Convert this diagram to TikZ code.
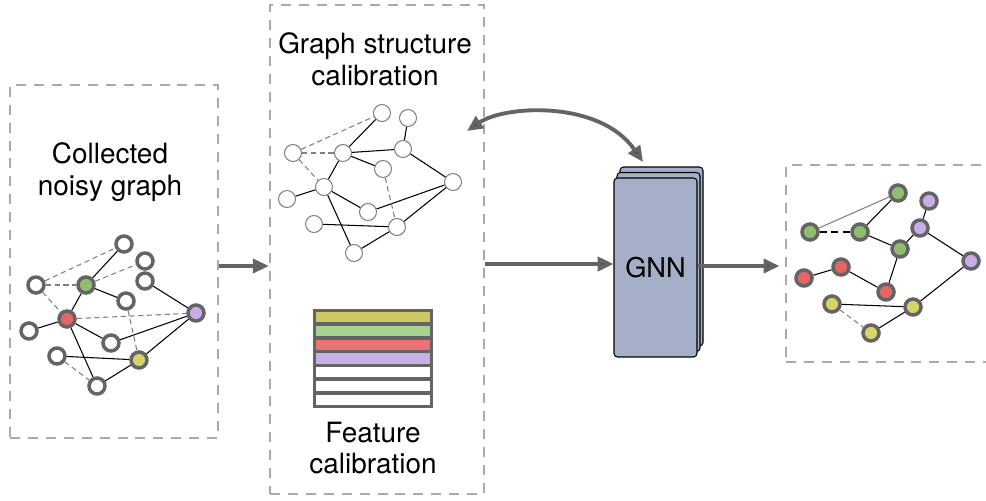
\documentclass[tikz,border=0pt]{standalone}
\usepackage{fontspec}
\setmainfont{TeX Gyre Heros}
\usepackage{tikz}
\usetikzlibrary{arrows.meta}

\definecolor{ngreen}{RGB}{143,190,112}
\definecolor{nred}{RGB}{229,102,102}
\definecolor{npurple}{RGB}{200,172,230}
\definecolor{nyellow}{RGB}{214,212,102}
\definecolor{fyellow}{RGB}{205,200,100}
\definecolor{fgreen}{RGB}{165,210,140}
\definecolor{fred}{RGB}{235,115,115}
\definecolor{fpurple}{RGB}{200,175,230}
\definecolor{gnnblue}{RGB}{165,176,200}
\definecolor{boxgray}{RGB}{170,170,170}
\definecolor{rimgray}{RGB}{100,100,100}

\tikzset{
  vtx/.style={shape=circle,draw=rimgray,line width=2pt,fill=white,minimum size=0.32cm,inner sep=0pt},
  cvtx/.style={shape=circle,draw=gray,line width=0.6pt,fill=white,minimum size=0.34cm,inner sep=0pt},
  link/.style={black,line width=0.6pt},
  noise/.style={gray,line width=0.6pt,dash pattern=on 3pt off 2pt},
  panel/.style={rectangle,draw=boxgray,line width=1.5pt,dash pattern=on 5.7pt off 4.5pt,inner sep=0pt},
  flow/.style={draw=rimgray,line width=2.2pt,-{Triangle[length=9pt,width=8pt,fill=black!70]}},
  label/.style={align=center,font=\fontsize{15.9}{18.1}\selectfont},
  layer/.style={rectangle,draw=black,line width=0.6pt,fill=gnnblue,rounded corners=2pt,minimum width=1.66cm,minimum height=3.58cm,inner sep=0pt},
  bar/.style={rectangle,draw=rimgray,line width=2pt,minimum width=2.34cm,minimum height=0.274cm,inner sep=0pt}
}

\begin{document}
\begin{tikzpicture}[x=0.02cm,y=-0.02cm]
        \useasboundingbox (0,0) rectangle (986,500);

        % panels
        \node[panel,minimum width=4.16cm,minimum height=7.06cm] (box1) at (114, 261.5) {};
        \node[panel,minimum width=4.28cm,minimum height=9.78cm] (box2) at (377, 249.5) {};
        \node[panel,minimum width=4.28cm,minimum height=3.94cm] (box3) at (893, 263.5) {};

        \node[label] (title1) at (110, 172) {Collected\\noisy graph};
        \node[label] (title2) at (375, 59) {Graph structure\\calibration};
        \node[label] (title3) at (373, 448) {Feature\\calibration};

        % noisy graph
        \node[vtx] (n1) at (124, 244) {};
        \node[vtx] (n2) at (145, 261) {};
        \node[vtx] (n3) at (145, 281) {};
        \node[vtx] (n4) at (36, 285) {};
        \node[vtx,fill=ngreen] (n5) at (86, 285) {};
        \node[vtx] (n6) at (126, 301) {};
        \node[vtx,fill=npurple] (n7) at (196, 313) {};
        \node[vtx,fill=nred] (n8) at (67, 319) {};
        \node[vtx] (n9) at (29, 331) {};
        \node[vtx] (n10) at (111, 343) {};
        \node[vtx] (n11) at (57, 356) {};
        \node[vtx,fill=nyellow] (n12) at (139, 360) {};
        \node[vtx] (n13) at (97, 386) {};

        \path[link] (n1) edge (n5);
        \path[link] (n5) edge (n8);
        \path[link] (n5) edge (n6);
        \path[link] (n8) edge (n9);
        \path[link] (n8) edge (n10);
        \path[link] (n8) edge (n13);
        \path[link] (n10) edge (n7);
        \path[link] (n3) edge (n7);
        \path[link] (n7) edge (n12);
        \path[link] (n11) edge (n12);
        \path[link] (n12) edge (n13);
        \path[noise] (n4) edge (n1);
        \path[noise] (n4) edge (n5);
        \path[noise] (n4) edge (n8);
        \path[noise] (n5) edge (n2);
        \path[noise] (n8) edge (n7);
        \path[noise] (n6) edge (n12);
        \path[noise] (n11) edge (n13);

        % calibrated structure
        \node[cvtx] (c1) at (382, 113) {};
        \node[cvtx] (c2) at (408, 118) {};
        \node[cvtx] (c3) at (293, 153) {};
        \node[cvtx] (c4) at (343, 153) {};
        \node[cvtx] (c5) at (403, 149) {};
        \node[cvtx] (c6) at (383, 169) {};
        \node[cvtx] (c7) at (453, 182) {};
        \node[cvtx] (c8) at (324, 187) {};
        \node[cvtx] (c9) at (287, 199) {};
        \node[cvtx] (c10) at (368, 212) {};
        \node[cvtx] (c11) at (314, 224) {};
        \node[cvtx] (c12) at (397, 227) {};
        \node[cvtx] (c13) at (354, 253) {};

        \path[link] (c1) edge (c4);
        \path[link] (c2) edge (c5);
        \path[link] (c4) edge (c5);
        \path[link] (c4) edge (c6);
        \path[link] (c4) edge (c8);
        \path[link] (c5) edge (c7);
        \path[link] (c8) edge (c9);
        \path[link] (c8) edge (c10);
        \path[link] (c8) edge (c13);
        \path[link] (c10) edge (c7);
        \path[link] (c11) edge (c12);
        \path[link] (c12) edge (c7);
        \path[link] (c12) edge (c13);
        \path[noise] (c3) edge (c1);
        \path[noise] (c3) edge (c4);
        \path[noise] (c3) edge (c8);
        \path[noise] (c6) edge (c12);

        % feature rows
        \foreach \i/\c in {1/fyellow,2/fgreen,3/fred,4/fpurple,5/white,6/white,7/white}
            \node[bar,fill=\c] (f\i) at (373, {317.4+13.7*(\i-1)}) {};

        % GNN stack
        \node[layer] (gnn3) at (661.5, 256.5) {};
        \node[layer] (gnn2) at (658.5, 262) {};
        \node[layer,font=\fontsize{15.5}{18}\selectfont] (gnn) at (655.5, 267.5) {GNN};

        % result graph
        \node[vtx,fill=ngreen] (r1) at (898, 193) {};
        \node[vtx,fill=npurple] (r2) at (929, 201) {};
        \node[vtx,fill=ngreen] (r3) at (810, 232) {};
        \node[vtx,fill=ngreen] (r4) at (860, 232) {};
        \node[vtx,fill=npurple] (r5) at (920, 228) {};
        \node[vtx,fill=ngreen] (r6) at (900, 249) {};
        \node[vtx,fill=npurple] (r7) at (971, 261) {};
        \node[vtx,fill=nred] (r8) at (841, 267) {};
        \node[vtx,fill=nred] (r9) at (804, 278) {};
        \node[vtx,fill=nred] (r10) at (886, 292) {};
        \node[vtx,fill=nyellow] (r11) at (832, 304) {};
        \node[vtx,fill=nyellow] (r12) at (913, 307) {};
        \node[vtx,fill=nyellow] (r13) at (871, 333) {};

        \path[gray,line width=0.6pt] (r3) edge (r1);
        \path[black,line width=0.7pt,dash pattern=on 4pt off 2.5pt] (r3) edge (r4);
        \path[link] (r1) edge (r4);
        \path[link] (r4) edge (r6);
        \path[link] (r6) edge (r5);
        \path[link] (r5) edge (r2);
        \path[link] (r5) edge (r7);
        \path[link] (r6) edge (r10);
        \path[link] (r8) edge (r10);
        \path[link] (r8) edge (r9);
        \path[link] (r7) edge (r12);
        \path[link] (r11) edge (r12);
        \path[link] (r12) edge (r13);
        \path[noise] (r11) edge (r13);

        % arrows
        \coordinate (loopin) at (467, 131);
        \coordinate (loopout) at (643, 162);
        \draw[flow] (box1.east |- 0,266) -- (box2.west |- 0,266);
        \draw[flow] (box2.east |- 0,264) -- (gnn.west |- 0,264);
        \draw[flow] (gnn.east |- 0,266) -- ([xshift=-3pt]box3.west |- 0,266);
        \draw[flow,{Triangle[length=9pt,width=8pt,fill=black!70]}-{Triangle[length=9pt,width=8pt,fill=black!70]}]
            (loopin) .. controls (505, 105) and (600, 100) .. (loopout);

    \end{tikzpicture}
\end{document}
